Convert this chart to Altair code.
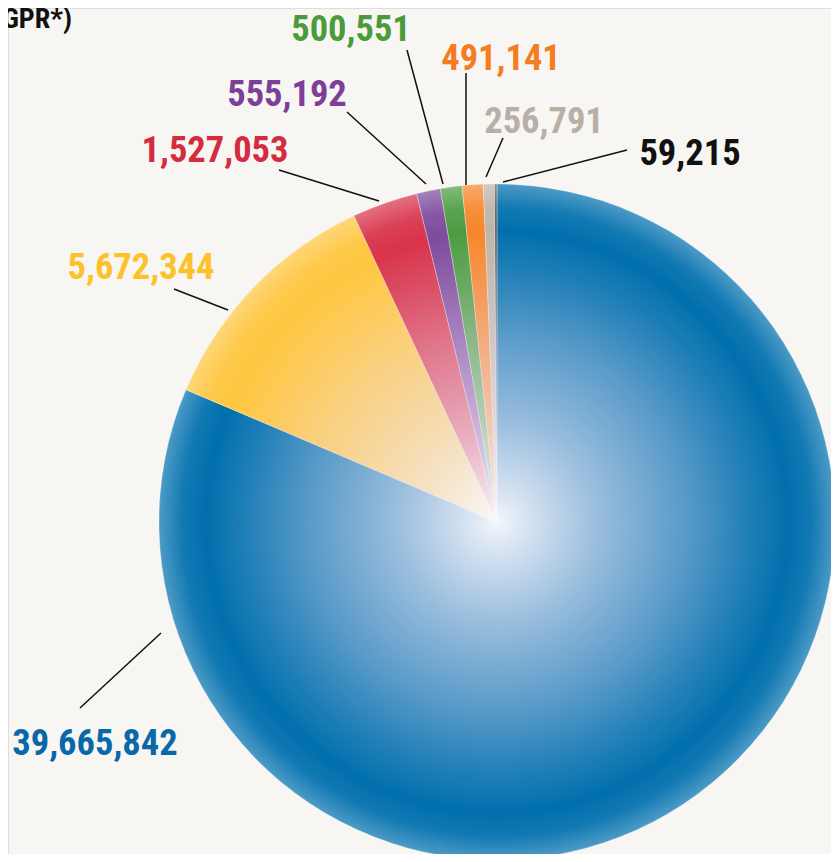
import math
import altair as alt
import pandas as pd

# ---------------- data ----------------
categories = ["Series 1", "Series 2", "Series 3", "Series 4",
              "Series 5", "Series 6", "Series 7", "Series 8"]
values = [39665842, 5672344, 1527053, 555192, 500551, 491141, 256791, 59215]
header_fragment = ["(GPR*)"]

# ---------------- styles ----------------
slice_colors = ["#006fad", "#ffc63f", "#d8334a", "#7e4b9e",
                "#4c9c42", "#f7862c", "#bdb4aa", "#5e5e5e"]
label_colors = ["#0868a9", "#fdc12b", "#d52b3e", "#7d3f98",
                "#4b9b3d", "#f47d22", "#b8afa6", "#111111"]
FONT = "Roboto Condensed, Open Sans Condensed, DejaVu Sans Condensed, sans-serif"
LABEL_SIZE = 36.5
BG = "#f7f6f2"

# ---------------- layout (pixel offsets from pie centre, x right / y up) ----------------
W, H = 823, 846          # view size
CX, CY = 489, 514        # pie centre inside the view
R = 338                  # pie radius
leader_start = [(-336, -111), (-269, 212), (-118, 321), (-71, 338),
                (-54, 338), (-31, 337), (-11, 345), (6, 340)]
leader_end = [(-417, -186), (-323, 233), (-218, 352), (-150, 410),
              (-90, 472), (-31, 449), (6, 384), (130, 372)]
label_anchor = [(-402, -233), (-356, 243), (-282, 360), (-210, 416),
                (-146, 481), (4, 452), (47, 389), (193, 357)]
header_anchor = (-425, 494)

df = pd.DataFrame({
    "cat": categories,
    "value": values,
    "idx": list(range(len(values))),
    "lcolor": label_colors,
    "lx1": [p[0] for p in leader_start], "ly1": [p[1] for p in leader_start],
    "lx2": [p[0] for p in leader_end], "ly2": [p[1] for p in leader_end],
    "tx": [p[0] for p in label_anchor], "ty": [p[1] for p in label_anchor],
})

xs = alt.Scale(domain=[-CX, W - CX], range=[0, W], nice=False, zero=False)
ys = alt.Scale(domain=[CY - H, CY], range=[H, 0], nice=False, zero=False)

base = alt.Chart(df)

pie = base.mark_arc(radius=R, stroke="#ffffff", strokeWidth=0.6, strokeOpacity=0.5).encode(
    theta=alt.Theta("value:Q", stack=True),
    order=alt.Order("idx:Q", sort="ascending"),
    color=alt.Color("cat:N", scale=alt.Scale(domain=categories, range=slice_colors), legend=None),
    x=alt.X(datum=0, scale=xs, axis=None),
    y=alt.Y(datum=0, scale=ys, axis=None),
)

shine = {
    "gradient": "radial",
    "x1": 0.5, "y1": 0.5, "r1": 0,
    "x2": 0.5, "y2": 0.5, "r2": 0.5,
    "stops": [
        {"offset": 0.0, "color": "rgba(250,250,255,0.97)"},
        {"offset": 0.1, "color": "rgba(246,244,252,0.86)"},
        {"offset": 0.3, "color": "rgba(240,234,248,0.64)"},
        {"offset": 0.55, "color": "rgba(238,228,247,0.38)"},
        {"offset": 0.75, "color": "rgba(238,228,247,0.13)"},
        {"offset": 0.86, "color": "rgba(255,255,255,0.0)"},
        {"offset": 0.93, "color": "rgba(255,255,255,0.07)"},
        {"offset": 1.0, "color": "rgba(255,255,255,0.3)"},
    ],
}
overlay = alt.Chart(pd.DataFrame({"k": [0]})).mark_arc(
    radius=R, theta=0, theta2=2 * math.pi, fill=shine
).encode(
    x=alt.X(datum=0, scale=xs, axis=None),
    y=alt.Y(datum=0, scale=ys, axis=None),
)

leaders = base.mark_rule(color="#111111", strokeWidth=1.5).encode(
    x=alt.X("lx1:Q", scale=xs, axis=None),
    y=alt.Y("ly1:Q", scale=ys, axis=None),
    x2="lx2:Q",
    y2="ly2:Q",
)

labels = base.mark_text(
    align="center", baseline="alphabetic", font=FONT, fontSize=LABEL_SIZE, fontWeight="bold"
).encode(
    x=alt.X("tx:Q", scale=xs, axis=None),
    y=alt.Y("ty:Q", scale=ys, axis=None),
    text=alt.Text("value:Q", format=","),
    fill=alt.Fill("lcolor:N", scale=None),
)

header = alt.Chart(pd.DataFrame({"t": header_fragment})).mark_text(
    align="right", baseline="alphabetic", font=FONT, fontSize=28, fontWeight="bold", color="#111111"
).encode(
    x=alt.X(datum=header_anchor[0], scale=xs, axis=None),
    y=alt.Y(datum=header_anchor[1], scale=ys, axis=None),
    text="t:N",
)

chart = alt.layer(pie, overlay, leaders, labels, header).properties(
    width=W, height=H, autosize="none", padding=0
).configure_view(stroke=None).configure(background=BG)

chart.save("out.html", embed_options={"renderer": "svg", "actions": False})
